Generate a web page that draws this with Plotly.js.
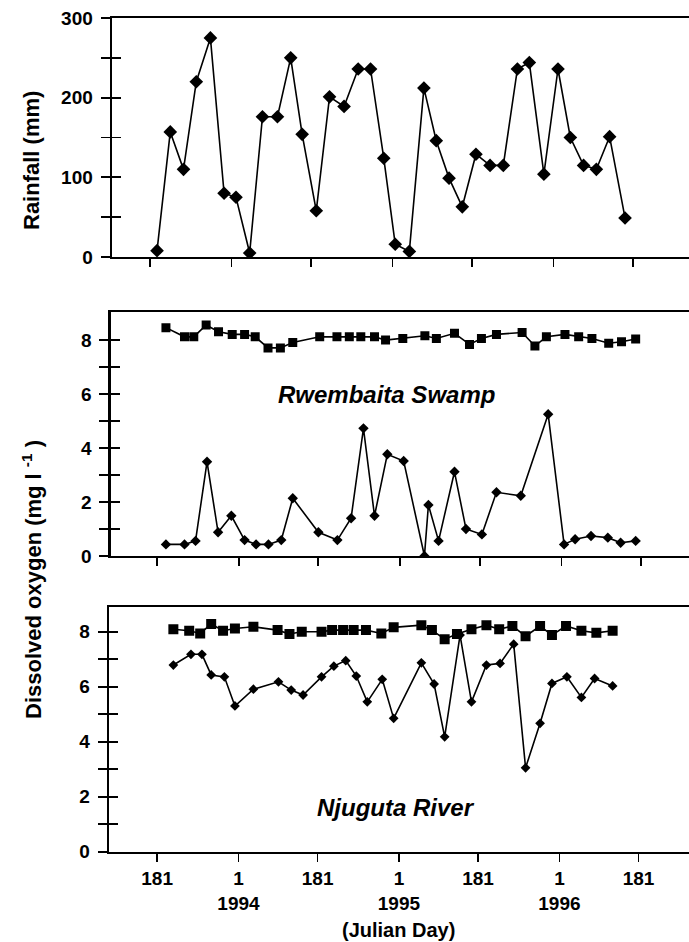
<!DOCTYPE html>
<html>
<head>
<meta charset="utf-8">
<script src="https://cdn.plot.ly/plotly-3.0.1.min.js"></script>
<style>
html, body { margin: 0; padding: 0; background: #fff; overflow: hidden; }
#chart { width: 689px; height: 942px; }
</style>
</head>
<body>
<div id="chart"></div>
<script>
// Day axis: continuous day count from 1 Jan 1993 (1993 day 181 = 181, 1994 day 1 = 366 ...)
const tickDays = [181, 366, 546, 731, 911, 1096, 1276];
const tickDayLabels = ['181', '1', '181', '1', '181', '1', '181'];
const tickYearLabels = [null, '1994', null, '1995', null, '1996', null];

// Rainfall (mm)
const rainDay = [197,227,257,286,318,349,376,407,436,470,500,526,558,588,621,653,681,711,737,769,802,830,859,889,920,952,982,1014,1041,1074,1106,1134,1164,1193,1223,1258];
const rainfall = [8,157,110,220,275,80,75,5,176,176,250,154,58,201,189,236,236,124,16,7,212,146,99,63,129,115,115,236,244,104,236,150,115,110,151,49];

// Rwembaita Swamp dissolved oxygen (mg/l)
const swampSqDay = [201,243,264,292,320,351,379,403,432,460,488,549,588,616,642,673,698,737,787,813,854,888,915,949,1007,1036,1062,1104,1135,1165,1203,1232,1264];
const swampSqO2 = [8.46,8.12,8.12,8.56,8.31,8.21,8.21,8.12,7.71,7.71,7.91,8.12,8.12,8.12,8.12,8.12,8.0,8.06,8.16,8.06,8.25,7.84,8.06,8.21,8.28,7.78,8.12,8.21,8.12,8.06,7.88,7.94,8.04];
const swampDiDay = [201,243,268,294,319,349,379,405,433,462,488,546,589,620,648,673,702,739,786,795,818,854,880,916,949,1004,1066,1102,1127,1163,1201,1230,1264];
const swampDiO2 = [0.43,0.43,0.56,3.49,0.88,1.49,0.59,0.43,0.43,0.59,2.14,0.88,0.59,1.40,4.73,1.49,3.77,3.52,0,1.89,0.56,3.12,1.0,0.80,2.36,2.23,5.25,0.43,0.62,0.74,0.68,0.49,0.56];

// Njuguta River dissolved oxygen (mg/l)
const riverSqDay = [218,254,279,304,331,358,400,455,482,510,555,579,604,628,656,691,719,782,806,835,863,896,930,959,989,1019,1052,1079,1111,1146,1180,1217];
const riverSqO2 = [8.09,8.04,7.94,8.28,8.04,8.12,8.18,8.06,7.92,8.0,8.0,8.06,8.06,8.06,8.06,7.94,8.16,8.24,8.06,7.73,7.92,8.09,8.24,8.09,8.21,7.84,8.21,7.88,8.21,8.04,7.96,8.04];
const riverDiDay = [218,258,283,304,334,358,400,457,486,513,555,583,610,634,659,693,719,782,811,835,870,896,930,961,992,1019,1052,1079,1113,1146,1176,1217];
const riverDiO2 = [6.79,7.18,7.18,6.43,6.36,5.30,5.91,6.18,5.88,5.70,6.36,6.75,6.95,6.39,5.45,6.27,4.85,6.87,6.10,4.18,7.88,5.45,6.79,6.85,7.55,3.05,4.67,6.12,6.36,5.61,6.30,6.03];

// y tick labels (labelled) and tick marks (all)
const rainLabelTicks = [0, 100, 200, 300];
const rainAllTicks = [0, 50, 100, 150, 200, 250, 300];
const o2LabelTicks = [0, 2, 4, 6, 8];
const o2AllTicks = [0, 1, 2, 3, 4, 5, 6, 7, 8];

const FONT = 'Liberation Sans, Arial, Helvetica, sans-serif';
const tickFont = {family: FONT, size: 19, color: '#000', weight: 700};

function series(x, y, xa, ya, symbol, size) {
  return {
    x: x, y: y, xaxis: xa, yaxis: ya, type: 'scatter', mode: 'lines+markers',
    line: {color: '#000', width: 1.6},
    marker: {symbol: symbol, size: size, color: '#000'},
    showlegend: false, hoverinfo: 'skip'
  };
}
function ghost(x, y, xa, ya) {
  return {x: [x], y: [y], xaxis: xa, yaxis: ya, type: 'scatter', mode: 'markers',
    marker: {opacity: 0, size: 1}, showlegend: false, hoverinfo: 'skip'};
}

const data = [
  series(rainDay, rainfall, 'x', 'y', 'diamond', 10.5),
  series(swampSqDay, swampSqO2, 'x2', 'y2', 'square', 9),
  series(swampDiDay, swampDiO2, 'x2', 'y2', 'diamond', 8),
  series(riverSqDay, riverSqO2, 'x3', 'y3', 'square', 10),
  series(riverDiDay, riverDiO2, 'x3', 'y3', 'diamond', 7.5),
  ghost(rainDay[0], rainfall[0], 'x', 'y4'),
  ghost(swampSqDay[0], swampSqO2[0], 'x2', 'y5'),
  ghost(riverSqDay[0], riverSqO2[0], 'x3', 'y6')
];

function xAxis(domain, range, anchor, labels) {
  return {
    domain: domain, range: range, anchor: anchor, type: 'linear',
    tickmode: 'array', tickvals: tickDays,
    ticktext: tickDays.map((d, i) => tickYearLabels[i] ? tickDayLabels[i] + '<br>' + tickYearLabels[i] : tickDayLabels[i]),
    showticklabels: !!labels,
    ticks: 'outside', ticklen: 8, tickwidth: 1.8, tickcolor: '#000',
    showline: true, linecolor: '#000', linewidth: 2.4, mirror: true,
    showgrid: false, zeroline: false, tickfont: tickFont, fixedrange: true
  };
}
function yAxis(domain, range, anchor, labelVals, allVals) {
  return {
    domain: domain, range: range, anchor: anchor,
    tickmode: 'array', tickvals: labelVals, ticktext: labelVals.map(String),
    ticks: 'outside', ticklen: 9, tickwidth: 1.8, tickcolor: '#000',
    minor: {tickmode: 'array', tickvals: allVals, ticks: 'outside', ticklen: 9, tickwidth: 1.8, tickcolor: '#000', showgrid: false},
    ticklabelstandoff: 4,
    showline: true, linecolor: '#000', linewidth: 2.4,
    showgrid: false, zeroline: false, tickfont: tickFont, fixedrange: true
  };
}
function yInner(over, range, anchor, vals) {
  return {
    overlaying: over, anchor: anchor, range: range, side: 'left',
    tickmode: 'array', tickvals: vals, showticklabels: false,
    ticks: 'inside', ticklen: 9, tickwidth: 1.8, tickcolor: '#000',
    showline: false, showgrid: false, zeroline: false, fixedrange: true
  };
}

const rainRange = [0, 300];
const swampRange = [0, 9.04];
const riverRange = [0, 8.89];

const layout = {
  width: 689, height: 942, autosize: false,
  margin: {l: 0, r: 0, t: 0, b: 0, pad: 0},
  paper_bgcolor: '#fff', plot_bgcolor: '#fff',
  font: {family: FONT, color: '#000'},
  xaxis: xAxis([112/689, 1], [94.9, 1403], 'y', false),
  yaxis: yAxis([1 - 257/942, 1 - 18/942], rainRange, 'x', rainLabelTicks, rainAllTicks),
  xaxis2: xAxis([110.7/689, 1], [76, 1384.7], 'y2', false),
  yaxis2: yAxis([1 - 556/942, 1 - 312/942], swampRange, 'x2', o2LabelTicks, o2AllTicks),
  xaxis3: xAxis([109/689, 1], [71.6, 1390.7], 'y3', true),
  yaxis3: yAxis([1 - 851.7/942, 1 - 607.3/942], riverRange, 'x3', o2LabelTicks, o2AllTicks),
  yaxis4: yInner('y', rainRange, 'x', rainAllTicks),
  yaxis5: yInner('y2', swampRange, 'x2', o2AllTicks),
  yaxis6: yInner('y3', riverRange, 'x3', o2AllTicks),
  annotations: [
    {text: 'Rainfall (mm)', xref: 'paper', yref: 'paper', x: 32/689, y: 1 - 161/942,
     textangle: -90, showarrow: false, xanchor: 'center', yanchor: 'middle',
     font: {family: FONT, size: 22, color: '#000', weight: 700}},
    {text: 'Dissolved oxygen (mg l <sup>-1</sup> )', xref: 'paper', yref: 'paper', x: 32/689, y: 1 - 580/942,
     textangle: -90, showarrow: false, xanchor: 'center', yanchor: 'middle',
     font: {family: FONT, size: 22, color: '#000', weight: 700}},
    {text: 'Rwembaita Swamp', xref: 'paper', yref: 'paper', x: 386/689, y: 1 - 394/942,
     showarrow: false, xanchor: 'center', yanchor: 'middle',
     font: {family: FONT, size: 24, color: '#000', weight: 700, style: 'italic'}},
    {text: 'Njuguta River', xref: 'paper', yref: 'paper', x: 396/689, y: 1 - 807/942,
     showarrow: false, xanchor: 'center', yanchor: 'middle',
     font: {family: FONT, size: 24, color: '#000', weight: 700, style: 'italic'}},
    {text: '(Julian Day)', xref: 'paper', yref: 'paper', x: 398/689, y: 1 - 930/942,
     showarrow: false, xanchor: 'center', yanchor: 'middle',
     font: {family: FONT, size: 20, color: '#000', weight: 700}}
  ]
};

Plotly.newPlot('chart', data, layout, {staticPlot: true, displayModeBar: false});
</script>
</body>
</html>
